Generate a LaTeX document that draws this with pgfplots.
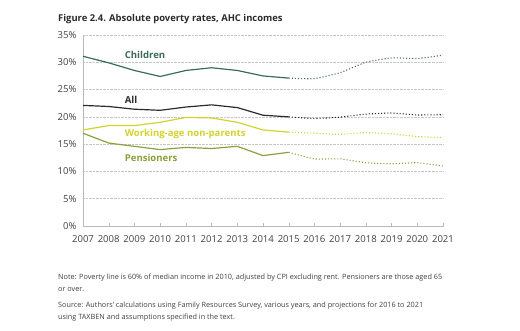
\documentclass[border=0pt]{standalone}
\usepackage{pgfplots}
\pgfplotsset{compat=1.18}
\usepackage{fontspec}
\setmainfont{Open Sans}
\definecolor{childc}{HTML}{3A6B58}
\definecolor{allc}{HTML}{2B2B2B}
\definecolor{workc}{HTML}{D2D32C}
\definecolor{pensc}{HTML}{8AA03E}
\definecolor{txtc}{HTML}{404040}
\begin{document}
\begin{tikzpicture}[x=1bp,y=1bp]
\path[use as bounding box] (0,0) rectangle (520,330);
\node[anchor=west,font=\bfseries\fontsize{9.45}{11}\selectfont,text=allc,inner sep=0] at (58,311) {Figure 2.4. Absolute poverty rates, AHC incomes};
\begin{axis}[
  at={(83bp,104bp)}, anchor=south west,
  scale only axis, width=360bp, height=191bp,
  xmin=2007, xmax=2021, ymin=0, ymax=35,
  axis x line*=bottom, axis y line*=left,
  axis line style={draw=gray!55,-},
  xtick={2007,...,2021},
  xticklabels={2007,2008,2009,2010,2011,2012,2013,2014,2015,2016,2017,2018,2019,2020,2021},
  ytick={0,5,...,35},
  yticklabels={0\%,5\%,10\%,15\%,20\%,25\%,30\%,35\%},
  tick label style={font=\fontsize{9.6}{11}\selectfont,text=txtc},
  xticklabel style={yshift=-6bp},
  yticklabel style={xshift=-3bp},
  x tick style={draw=gray!55}, major tick length=3bp, tick align=inside,
  y tick style={draw=none},
  ymajorgrids, grid style={densely dotted,gray!45,line width=0.6pt},
  clip=false,
]
% Children
\addplot[childc,line width=1.2pt] coordinates {(2007,31.1)(2008,29.9)(2009,28.5)(2010,27.4)(2011,28.5)(2012,29.0)(2013,28.5)(2014,27.5)(2015,27.1)};
\addplot[childc!80!gray,line width=1.1pt,dotted,smooth,tension=0.3] coordinates {(2015,27.1)(2016,27.0)(2017,28.1)(2018,30.0)(2019,30.8)(2020,30.7)(2021,31.3)};
% All
\addplot[allc,line width=1.2pt] coordinates {(2007,22.1)(2008,21.9)(2009,21.4)(2010,21.2)(2011,21.8)(2012,22.2)(2013,21.7)(2014,20.3)(2015,20.0)};
\addplot[allc,line width=1.1pt,dotted,smooth,tension=0.3] coordinates {(2015,20.0)(2016,19.7)(2017,19.95)(2018,20.5)(2019,20.7)(2020,20.35)(2021,20.4)};
% Working-age non-parents
\addplot[workc,line width=1.2pt] coordinates {(2007,17.6)(2008,18.4)(2009,18.4)(2010,19.0)(2011,19.9)(2012,19.8)(2013,19.0)(2014,17.6)(2015,17.2)};
\addplot[workc,line width=1.1pt,dotted,smooth,tension=0.3] coordinates {(2015,17.2)(2016,17.0)(2017,16.8)(2018,17.1)(2019,16.9)(2020,16.4)(2021,16.2)};
% Pensioners
\addplot[pensc,line width=1.2pt] coordinates {(2007,17.0)(2008,15.2)(2009,14.6)(2010,14.0)(2011,14.4)(2012,14.2)(2013,14.6)(2014,12.9)(2015,13.5)};
\addplot[pensc,line width=1.1pt,dotted,smooth,tension=0.3] coordinates {(2015,13.5)(2016,12.3)(2017,12.3)(2018,11.6)(2019,11.4)(2020,11.6)(2021,11.0)};
\node[anchor=west,inner sep=0,font=\bfseries\fontsize{9.6}{11}\selectfont,text=childc] at (axis cs:2008.62,31.3) {Children};
\node[anchor=west,inner sep=0,font=\bfseries\fontsize{9.6}{11}\selectfont,text=allc] at (axis cs:2008.62,23.1) {All};
\node[anchor=west,inner sep=0,font=\bfseries\fontsize{9.6}{11}\selectfont,text=workc] at (axis cs:2008.62,16.8) {Working-age non-parents};
\node[anchor=west,inner sep=0,font=\bfseries\fontsize{9.6}{11}\selectfont,text=pensc] at (axis cs:2008.62,12.4) {Pensioners};
\end{axis}
\node[anchor=north west,inner sep=0,align=left,font=\fontsize{7.3}{12}\selectfont,text=txtc] at (58,56) {Note: Poverty line is 60\% of median income in 2010, adjusted by CPI excluding rent. Pensioners are those aged 65\\or over.};
\node[anchor=north west,inner sep=0,align=left,font=\fontsize{7.3}{12}\selectfont,text=txtc] at (58,28) {Source: Authors' calculations using Family Resources Survey, various years, and projections for 2016 to 2021\\using TAXBEN and assumptions specified in the text.};
\end{tikzpicture}
\end{document}
